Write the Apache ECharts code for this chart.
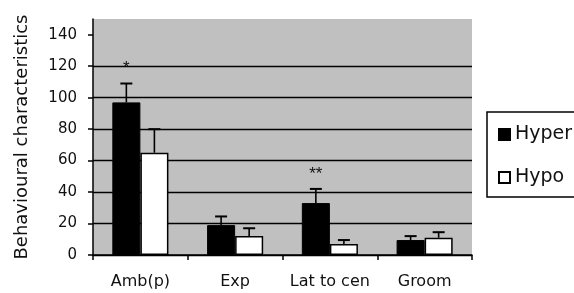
<!DOCTYPE html>
<html>
<head>
<meta charset="utf-8">
<script src="https://cdn.jsdelivr.net/npm/echarts@6/dist/echarts.min.js"></script>
<style>html,body{margin:0;padding:0;background:#fff;}#c{width:574px;height:293px;}</style>
</head>
<body>
<div id="c"></div>
<script>
const categories = ['Amb(p)', 'Exp', 'Lat to cen', 'Groom'];
const hyperValues = [97, 19, 33, 9.5];
const hyperErrors = [12, 5.5, 9, 2.5];
const hypoValues = [65, 12, 7, 11];
const hypoErrors = [15, 5, 2.5, 3.5];
const hyperMarks = ['*', '', '**', ''];
const yTicks = [0, 20, 40, 60, 80, 100, 120, 140];
const yTitle = 'Behavioural characteristics';

const BAR_FRAC = 0.296; // each bar's share of the category band
const chart = echarts.init(document.getElementById('c'), null, {renderer: 'canvas'});

function errorSeries(name, values, errors, side, marks) {
  return {
    type: 'custom',
    name: name + ' err',
    silent: true,
    z: 5,
    data: values.map((v, i) => [i, v, v + errors[i], marks ? marks[i] : '']),
    renderItem: function (params, api) {
      const band = api.size([1, 0])[0];
      const off = side * band * BAR_FRAC / 2;
      const base = api.coord([api.value(0), api.value(1)]);
      const top = api.coord([api.value(0), api.value(2)]);
      const x = base[0] + off;
      const children = [
        {type: 'line', shape: {x1: x, y1: base[1], x2: x, y2: top[1]}, style: {stroke: '#000', lineWidth: 1.6}},
        {type: 'line', shape: {x1: x - 6, y1: top[1], x2: x + 6, y2: top[1]}, style: {stroke: '#000', lineWidth: 2}}
      ];
      const mk = marks ? marks[params.dataIndex] : '';
      if (mk) {
        children.push({type: 'text', style: {text: mk, x: x, y: top[1] - 15, align: 'center', verticalAlign: 'middle',
          font: '17px "Liberation Sans", Arial', fill: '#111'}});
      }
      return {type: 'group', children: children};
    }
  };
}

chart.setOption({
  animation: false,
  backgroundColor: '#fff',
  grid: {left: 93, right: 102, top: 19, bottom: 38, show: true, backgroundColor: '#c0c0c0', borderWidth: 0},
  legend: {
    orient: 'vertical', left: 487, top: 112,
    padding: [13, 40, 10, 11], itemGap: 24,
    itemWidth: 11, itemHeight: 11,
    borderColor: '#000', borderWidth: 1.5, borderRadius: 0,
    backgroundColor: '#fff',
    textStyle: {fontFamily: 'DejaVu Sans', fontSize: 19, color: '#111'},
    data: [
      {name: 'Hyper', icon: 'rect'},
      {name: 'Hypo', icon: 'rect'}
    ]
  },
  xAxis: {
    type: 'category', data: categories,
    axisLine: {lineStyle: {color: '#000', width: 1.5}},
    axisTick: {show: true, alignWithLabel: false, length: 5, lineStyle: {color: '#000', width: 1.5}},
    axisLabel: {interval: 0, hideOverlap: false, margin: 19, color: '#111', fontFamily: 'DejaVu Sans', fontSize: 16},
    splitLine: {show: false}
  },
  yAxis: {
    type: 'value', min: 0, max: 150, interval: 20,
    name: yTitle, nameLocation: 'middle', nameRotate: 90, nameGap: 62,
    nameTextStyle: {fontFamily: 'DejaVu Sans', fontSize: 18, color: '#111'},
    axisLine: {show: true, lineStyle: {color: '#000', width: 1.5}},
    axisTick: {show: true, length: 5, inside: false, customValues: yTicks, lineStyle: {color: '#000', width: 1.5}},
    axisLabel: {margin: 16, color: '#111', fontFamily: 'DejaVu Sans', fontSize: 15, customValues: yTicks},
    splitLine: {show: true, showMaxLine: false, lineStyle: {color: '#000', width: 1.4}}
  },
  series: [
    {type: 'bar', name: 'Hyper', data: hyperValues, barWidth: (BAR_FRAC * 100) + '%', barGap: '0%',
      itemStyle: {color: '#000', borderColor: '#000', borderWidth: 1}},
    {type: 'bar', name: 'Hypo', data: hypoValues, barWidth: (BAR_FRAC * 100) + '%', barGap: '0%',
      itemStyle: {color: '#fff', borderColor: '#000', borderWidth: 1.5}},
    errorSeries('Hyper', hyperValues, hyperErrors, -1, hyperMarks),
    errorSeries('Hypo', hypoValues, hypoErrors, 1, null)
  ]
});
</script>
</body>
</html>
